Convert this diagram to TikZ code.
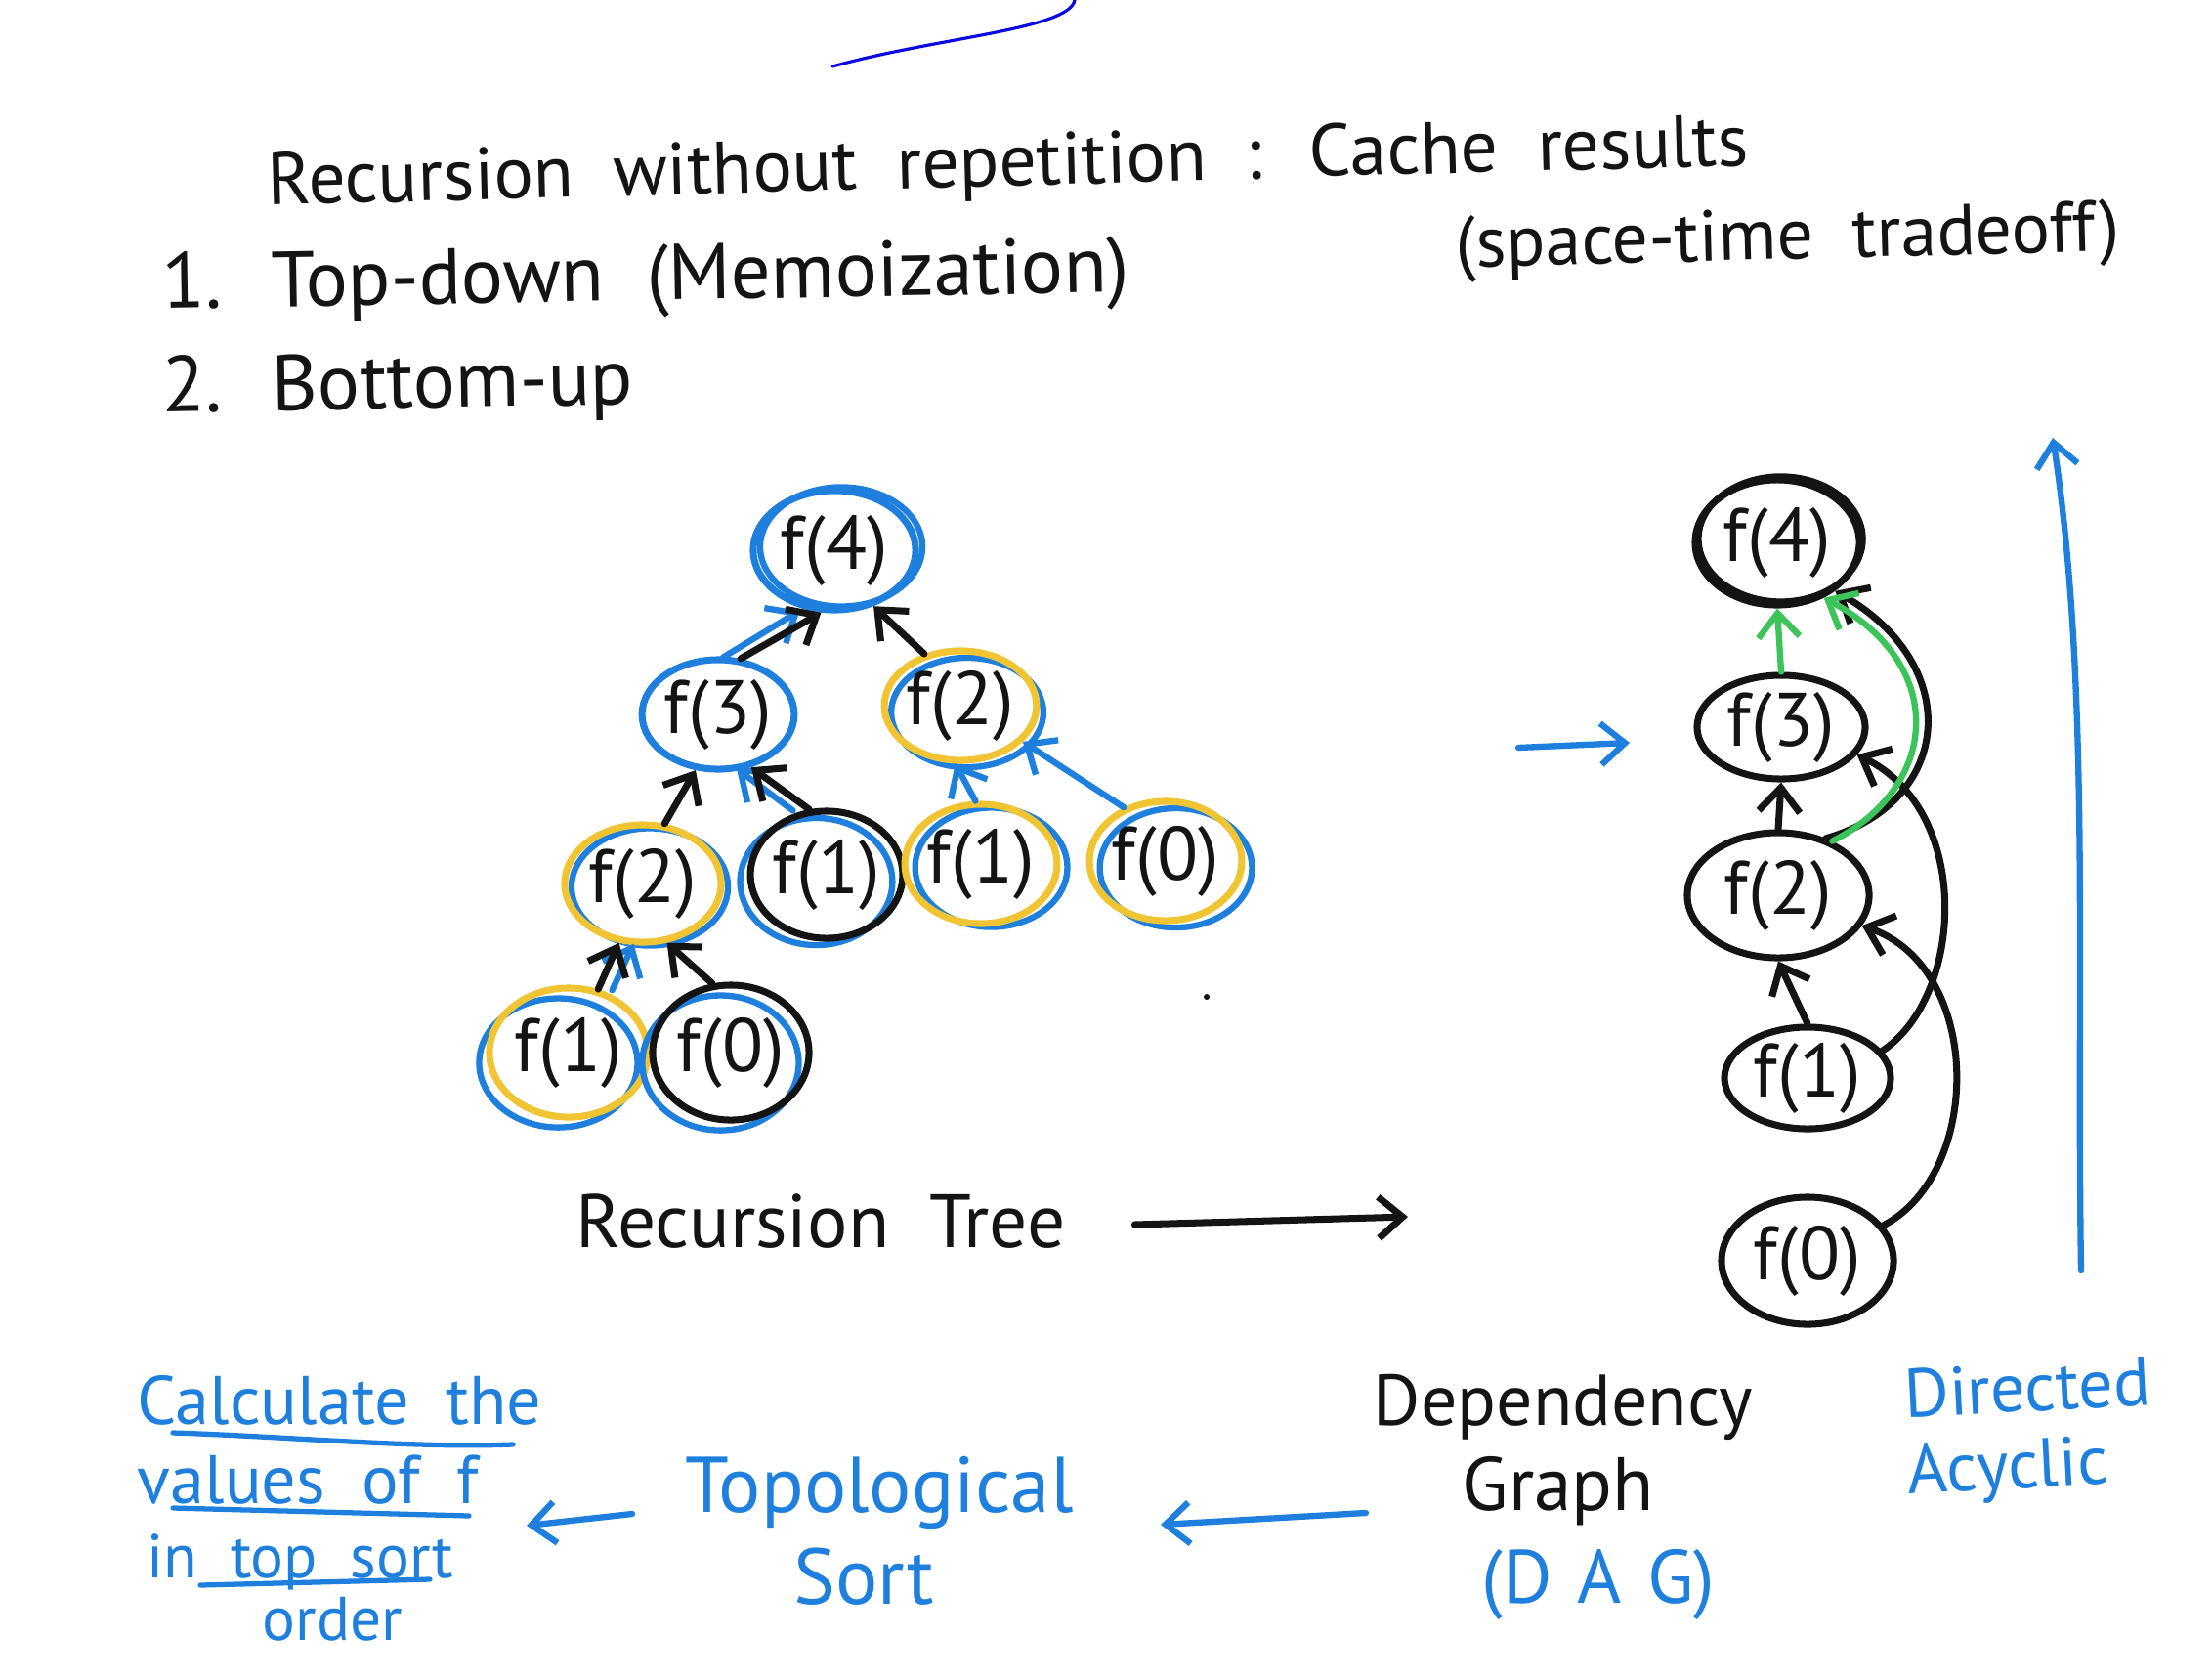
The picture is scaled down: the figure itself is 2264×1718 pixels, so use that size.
\documentclass[tikz,border=0pt]{standalone}
\usepackage{fontspec}
\setmainfont{PT Sans}
\usetikzlibrary{shapes.geometric,arrows.meta}
\definecolor{inkblue}{RGB}{30,128,220}
\definecolor{inkyellow}{RGB}{240,196,50}
\definecolor{inkgreen}{RGB}{60,195,90}
\definecolor{penblue}{RGB}{10,10,225}
\definecolor{ink}{RGB}{20,20,20}
\begin{document}
\begin{tikzpicture}[x=0.01cm,y=-0.01cm,
  line cap=round, line join=round,
  fnode/.style={ellipse, inner sep=0pt, line width=2pt, text=ink, font=\fontsize{22}{22}\selectfont},
  echo/.style 2 args={preaction={draw=#1, line width=1.8pt, transform canvas={shift={#2}}}},
  tip/.style={-{Straight Barb[length=7pt,width=12pt]}},
  blk/.style={draw=ink, line width=2pt, tip},
  blu/.style={draw=inkblue, line width=1.8pt, tip},
  grn/.style={draw=inkgreen, line width=1.8pt, tip},
  hand/.style={text=ink, inner sep=0pt, font=\fontsize{22}{22}\selectfont},
  bhand/.style={text=inkblue, inner sep=0pt, font=\fontsize{20}{20}\selectfont},
]
\useasboundingbox[fill=white] (0,0) rectangle (2264,1718);

% top pen stroke
\draw[penblue, line width=0.9pt] (852,68) .. controls (960,38) and (1095,30) .. (1100,0);

% header texts
\node[hand, anchor=base west, rotate=1.5, font=\fontsize{21.5}{21.5}\selectfont] (title) at (274,210)
  {Recursion~ without~ repetition~ :};
\node[hand, anchor=base west, rotate=1.5, font=\fontsize{21.5}{21.5}\selectfont] (cache) at (1340,181)
  {Cache~ results};
\node[hand, anchor=base west, rotate=1.5, font=\fontsize{21}{21}\selectfont] (tradeoff) at (1490,274) {(space-time~ tradeoff)};
\node[hand, anchor=base west, rotate=1, font=\fontsize{23}{23}\selectfont] (item1) at (166,316)
  {1.~ Top-down~ (Memoization)};
\node[hand, anchor=base west, rotate=1, font=\fontsize{23}{23}\selectfont] (item2) at (166,422)
  {2.~ Bottom-up};

% recursion tree
\node[fnode, draw=inkblue, echo={inkblue}{(2pt,1pt)}, minimum width=1.66cm, minimum height=1.22cm] (t4) at (854,563) {f(4)};
\node[fnode, draw=inkblue, minimum width=1.52cm, minimum height=1.12cm] (t3) at (735,731) {f(3)};
\node[fnode, draw=inkyellow, echo={inkblue}{(2pt,-2pt)}, minimum width=1.54cm, minimum height=1.12cm] (t2r) at (983,722) {f(2)};
\node[fnode, draw=inkyellow, echo={inkblue}{(2pt,-1pt)}, minimum width=1.60cm, minimum height=1.20cm] (t2l) at (658,904) {f(2)};
\node[fnode, draw=ink, echo={inkblue}{(-3pt,-2pt)}, minimum width=1.32cm, minimum height=1.30cm] (t1m) at (846,895) {f(1)};
\node[fnode, draw=inkyellow, echo={inkblue}{(3pt,-1pt)}, minimum width=1.36cm, minimum height=1.22cm] (t1y) at (1004,884) {f(1)};
\node[fnode, draw=inkyellow, echo={inkblue}{(3pt,-2pt)}, minimum width=1.46cm, minimum height=1.22cm] (t0) at (1193,881) {f(0)};
\node[fnode, draw=inkyellow, echo={inkblue}{(-3pt,-3pt)}, minimum width=1.62cm, minimum height=1.32cm] (t1b) at (582,1077) {f(1)};
\node[fnode, draw=ink, echo={inkblue}{(-3pt,-3pt)}, minimum width=1.60cm, minimum height=1.38cm] (t0b) at (748,1077) {f(0)};

\draw[blu] ([xshift=-3pt]t3.75) -- ([xshift=-3pt]t4.-112);
\draw[blk] (t3.68) -- (t4.-102);
\draw[blk] (t2r.125) -- (t4.-55);
\draw[blk] (t2l.70) -- (t3.-112);
\draw[blu] ([xshift=-3pt]t1m.110) -- ([xshift=-3pt]t3.-62);
\draw[blk] (t1m.105) -- (t3.-58);
\draw[blu] (t1y.95) -- (t2r.-95);
\draw[blu] (t0.128) -- (t2r.-30);
\draw[blu] ([xshift=3pt]t1b.62) -- ([xshift=3pt]t2l.-108);
\draw[blk] (t1b.65) -- (t2l.-112);
\draw[blk] (t0b.105) -- (t2l.-68);

\fill[ink] (1235,1020) circle (3);

\node[hand, anchor=base west] (rtree) at (589,1276) {Recursion~ Tree};
\coordinate (rtend) at (1441,1245);
\draw[blk] ([xshift=0.7cm]rtree.east |- 0,1253) -- (rtend);

% arrow towards DAG
\coordinate (ba1) at (1554,765);
\coordinate (ba2) at (1668,760);
\draw[blu] (ba1) -- (ba2);

% DAG
\node[fnode, draw=ink, echo={ink}{(1pt,1pt)}, minimum width=1.68cm, minimum height=1.28cm] (d4) at (1819,555) {f(4)};
\node[fnode, draw=ink, minimum width=1.72cm, minimum height=1.06cm] (d3) at (1823,744) {f(3)};
\node[fnode, draw=ink, minimum width=1.86cm, minimum height=1.28cm] (d2) at (1820,916) {f(2)};
\node[fnode, draw=ink, minimum width=1.70cm, minimum height=1.04cm] (d1) at (1850,1103) {f(1)};
\node[fnode, draw=ink, minimum width=1.76cm, minimum height=1.30cm] (d0) at (1850,1290) {f(0)};

\draw[blk] (d2.north) -- (d3.south);
\draw[blk] (d1.north) -- (d2.south);
\draw[blk] (d1.20) .. controls (2010,1020) and (2020,830) .. (d3.-20);
\draw[blk] (d0.25) .. controls (2030,1200) and (2030,990) .. (d2.-20);
\draw[blk] (d2.50) .. controls (2000,820) and (2010,680) .. (d4.-40);
\draw[grn] (d3.north) -- (d4.south);
\draw[grn] (d2.45) .. controls (1985,805) and (1995,680) .. (d4.-50);

% big blue arrow
\coordinate (bigbot) at (2130,1300);
\coordinate (bigtop) at (2101,448);
\draw[blu] (bigbot) .. controls (2125,1000) and (2140,700) .. (bigtop);

% bottom texts
\node[hand, anchor=base, font=\fontsize{21}{21}\selectfont] (dep) at (1600,1458) {Dependency};
\node[hand, anchor=base] (graph) at (1595,1545) {Graph};
\node[bhand, anchor=base, font=\fontsize{22}{22}\selectfont] (dag) at (1636,1640) {(D\,\,A\,\,G)};
\node[bhand, anchor=base, rotate=3] (directed) at (2076,1444) {Directed};
\node[bhand, anchor=base, rotate=3] (acyclic) at (2056,1523) {Acyclic};

\coordinate (ta1) at (1398,1548);
\coordinate (ta2) at (1188,1560);
\draw[blu] (ta1) -- (ta2);

\node[bhand, anchor=base, font=\fontsize{23}{23}\selectfont] (topo) at (900,1547) {Topological};
\node[bhand, anchor=base, font=\fontsize{23}{23}\selectfont] (sort) at (884,1641) {Sort};

\coordinate (ca1) at (647,1549);
\coordinate (ca2) at (539,1561);
\draw[blu] (ca1) -- (ca2);

\node[bhand, anchor=base west] (calc) at (140,1457) {Calculate~ the};
\node[bhand, anchor=base west] (vals) at (140,1538) {values~ of~ f};
\node[bhand, anchor=base west, font=\fontsize{18}{18}\selectfont] (intop) at (150,1614) {in~ top~ sort};
\node[bhand, anchor=base west, font=\fontsize{18}{18}\selectfont] (order) at (268,1678) {order};
\draw[inkblue, line width=1.5pt] (177,1466) .. controls (300,1470) and (420,1482) .. (525,1478);
\draw[inkblue, line width=1.5pt] (177,1543) -- (480,1551);
\draw[inkblue, line width=1.5pt] (205,1622) -- (440,1616);
\end{tikzpicture}
\end{document}
